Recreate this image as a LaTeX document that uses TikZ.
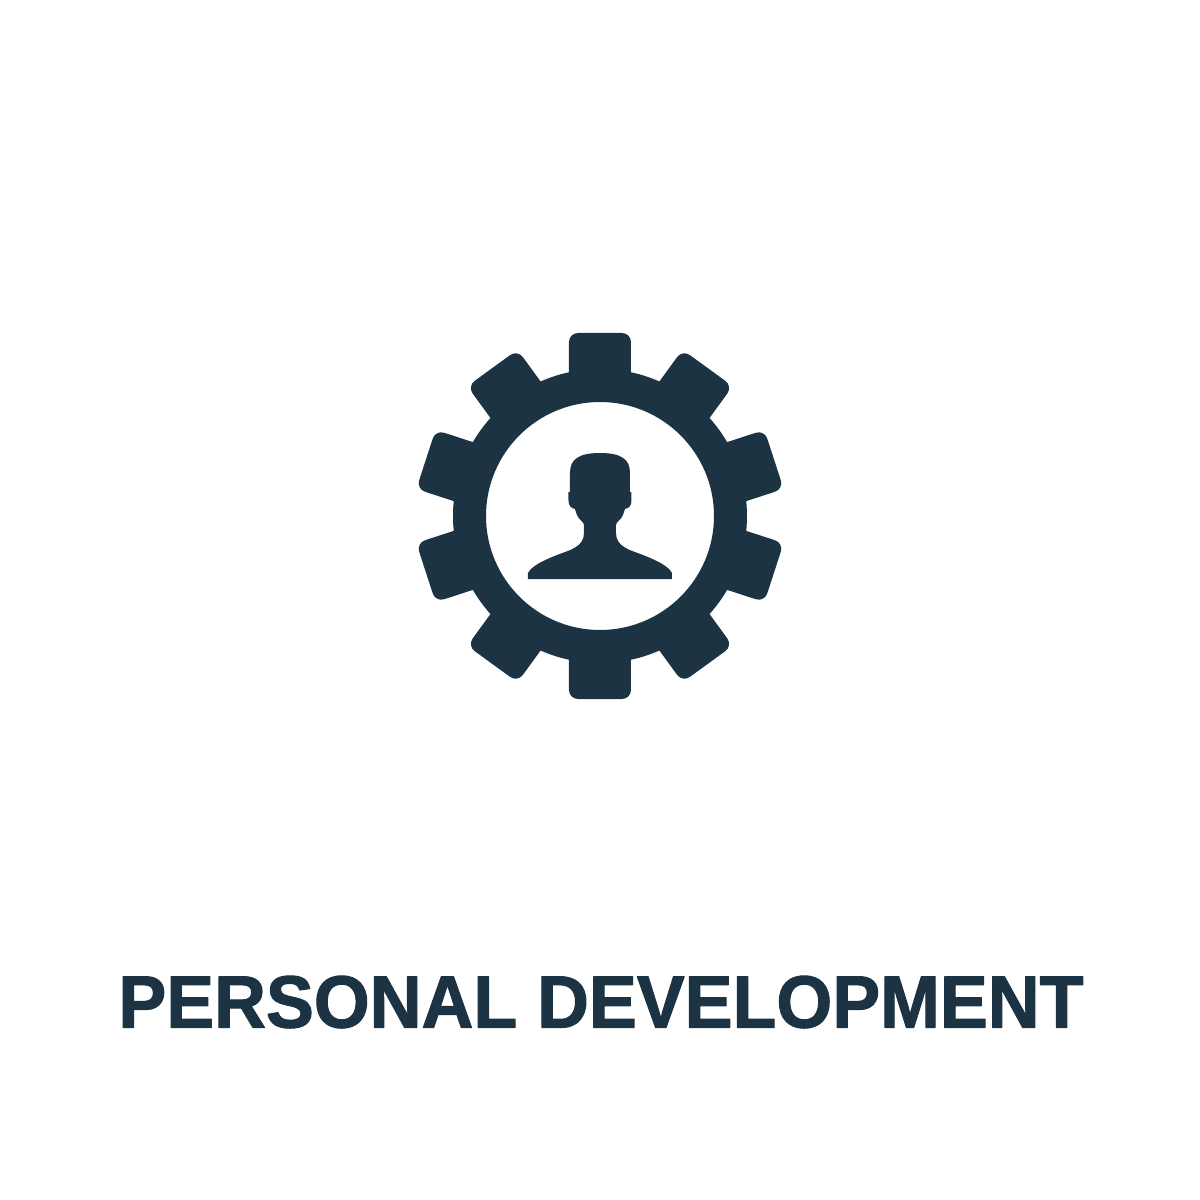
\documentclass[tikz,border=0pt]{standalone}
\usepackage{fontspec}
\setmainfont{Liberation Sans}
\newfontfamily\titlefont[FakeBold=1.5]{Liberation Sans Bold}
\definecolor{gearblue}{HTML}{1B3342}
\tikzset{
  gearfill/.style={fill=gearblue, draw=none},
  tooth/.style={gearfill, rounded corners=9pt},
}
\begin{document}
\begin{tikzpicture}[x=1pt,y=1pt,line join=round,line cap=round]
\useasboundingbox (-600,-684) rectangle (600,516);
% teeth
\foreach \a in {0,36,...,324}
  \fill[tooth, rotate=\a] (-31,130) -- (-31,183) -- (31,183) -- (31,130) -- cycle;
% ring
\fill[gearfill, even odd rule] (0,0) circle (147) (0,0) circle (114);
% person
\fill[gearfill] (-72,-63) -- (-72,-57)
  .. controls (-68,-50) and (-58,-45) .. (-43,-39)
  .. controls (-30,-34) and (-16,-31) .. (-16,-17)
  -- (-16,-9)
  .. controls (-16,-6) and (-21,-4) .. (-23,1)
  .. controls (-24,3) and (-24,5) .. (-25,7)
  .. controls (-29,8) and (-31.5,10) .. (-31.5,16)
  -- (-31.5,24) -- (-30,24) -- (-30,43)
  .. controls (-30,57) and (-21,63) .. (0,63)
  .. controls (21,63) and (30,57) .. (30,43)
  -- (30,24) -- (31.5,24) -- (31.5,16)
  .. controls (31.5,10) and (29,8) .. (25,7)
  .. controls (24,5) and (24,3) .. (23,1)
  .. controls (21,-4) and (16,-6) .. (16,-9)
  -- (16,-17)
  .. controls (16,-31) and (30,-34) .. (43,-39)
  .. controls (58,-45) and (68,-50) .. (72,-57)
  -- (72,-63) -- cycle;
% title
\node[text=gearblue, inner sep=0pt, anchor=base, xscale=0.97, transform shape] (title) at (1,-511.5)
  {\fontsize{74}{74}\selectfont\titlefont PERSONAL DEVELOPMENT};
\end{tikzpicture}
\end{document}
